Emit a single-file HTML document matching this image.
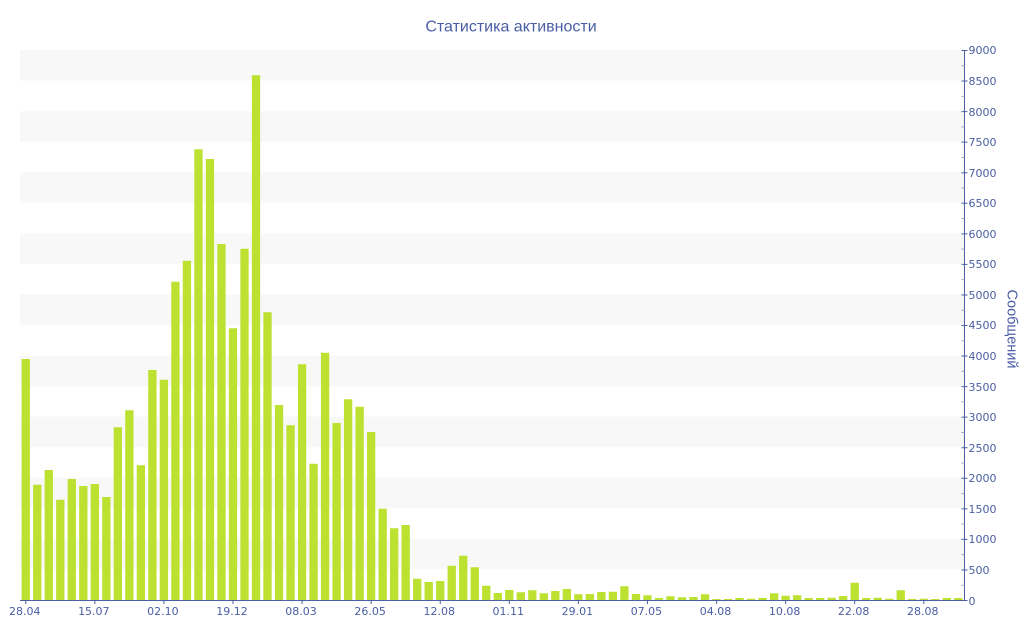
<!DOCTYPE html>
<html><head><meta charset="utf-8"><style>
html,body{margin:0;padding:0;background:#fff;width:1024px;height:640px;overflow:hidden;position:relative}
svg{display:block;position:absolute;left:0;top:0}
.yl{position:absolute;left:968.5px;top:36.4px;font:11px/30.556px "DejaVu Sans",Verdana,sans-serif;color:#4a5ea3;white-space:nowrap}
.xl{position:absolute;left:-9.8px;top:604.7px;display:flex;font:11px/13px "DejaVu Sans",Verdana,sans-serif;color:#4a5ea3}
.xl span{width:69.08px;text-align:center;flex:none}
</style></head><body>
<svg width="1024" height="640" viewBox="0 0 1024 640" xmlns="http://www.w3.org/2000/svg">
<defs>
<pattern id="bd" x="20" y="50" width="944" height="61.111" patternUnits="userSpaceOnUse">
<rect x="0" y="0" width="944" height="30.556" fill="#f8f8f8"/>
</pattern>
</defs>
<rect x="20" y="50" width="944" height="550" fill="url(#bd)"/>
<path fill="none" stroke="#bce130" stroke-width="8.3" d="M25.75 600V359M37.26 600V484.7M48.78 600V470M60.29 600V499.7M71.8 600V479M83.32 600V486M94.83 600V484M106.34 600V497M117.85 600V427.3M129.37 600V410.3M140.88 600V465.3M152.39 600V370M163.91 600V379.7M175.42 600V281.7M186.93 600V260.7M198.45 600V149.3M209.96 600V159M221.47 600V244M232.98 600V328.3M244.5 600V248.7M256.01 600V75.3M267.52 600V312.3M279.04 600V405M290.55 600V425.3M302.06 600V364.3M313.58 600V463.7M325.09 600V352.7M336.6 600V423M348.11 600V399.3M359.63 600V406.7M371.14 600V432M382.65 600V508.7M394.17 600V528.3M405.68 600V525M417.19 600V578.7M428.71 600V582M440.22 600V581M451.73 600V565.7M463.24 600V555.7M474.76 600V567.3M486.27 600V585.7M497.78 600V593M509.3 600V590M520.81 600V592.3M532.32 600V590.3M543.84 600V593.3M555.35 600V591M566.86 600V589M578.37 600V594.3M589.89 600V594M601.4 600V592M612.91 600V591.7M624.43 600V586.3M635.94 600V594M647.45 600V595.3M658.97 600V598M670.48 600V596.3M681.99 600V597.3M693.5 600V597M705.02 600V594.3M716.53 600V599M728.04 600V599M739.56 600V598M751.07 600V598.7M762.58 600V598M774.1 600V593.3M785.61 600V595.7M797.12 600V595.3M808.63 600V598M820.15 600V598M831.66 600V597.7M843.17 600V596M854.69 600V582.7M866.2 600V598M877.71 600V597.7M889.23 600V598.7M900.74 600V590.3M912.25 600V599M923.76 600V598.7M935.28 600V599M946.79 600V598M958.3 600V598"/>
<g fill="none" stroke="#4b5fa5">
<line x1="20" y1="600.5" x2="965" y2="600.5" stroke-width="1"/>
<line x1="964.5" y1="50" x2="964.5" y2="601" stroke-width="1"/>
<line x1="964.5" y1="50" x2="964.5" y2="601" stroke-width="6" stroke-dasharray="1 29.556"/>
<line x1="25.26" y1="602" x2="926" y2="602" stroke-width="4" stroke-dasharray="1 68.08"/>
</g>
<line x1="963" y1="65.28" x2="963" y2="600" stroke="#9aa5cc" stroke-width="3" stroke-dasharray="1 29.556"/>
<text x="511" y="31.5" text-anchor="middle" fill="#4a5ea5" font-family="'Liberation Sans', Arial, sans-serif" font-size="16">Статистика активности</text>
<text transform="translate(1007.5,329) rotate(90)" text-anchor="middle" fill="#4a5ea5" font-family="'Liberation Sans', Arial, sans-serif" font-size="14.5">Сообщений</text>
</svg>
<div class="yl">9000<br>8500<br>8000<br>7500<br>7000<br>6500<br>6000<br>5500<br>5000<br>4500<br>4000<br>3500<br>3000<br>2500<br>2000<br>1500<br>1000<br>500<br>0</div>
<div class="xl"><span>28.04</span><span>15.07</span><span>02.10</span><span>19.12</span><span>08.03</span><span>26.05</span><span>12.08</span><span>01.11</span><span>29.01</span><span>07.05</span><span>04.08</span><span>10.08</span><span>22.08</span><span>28.08</span></div>
</body></html>
